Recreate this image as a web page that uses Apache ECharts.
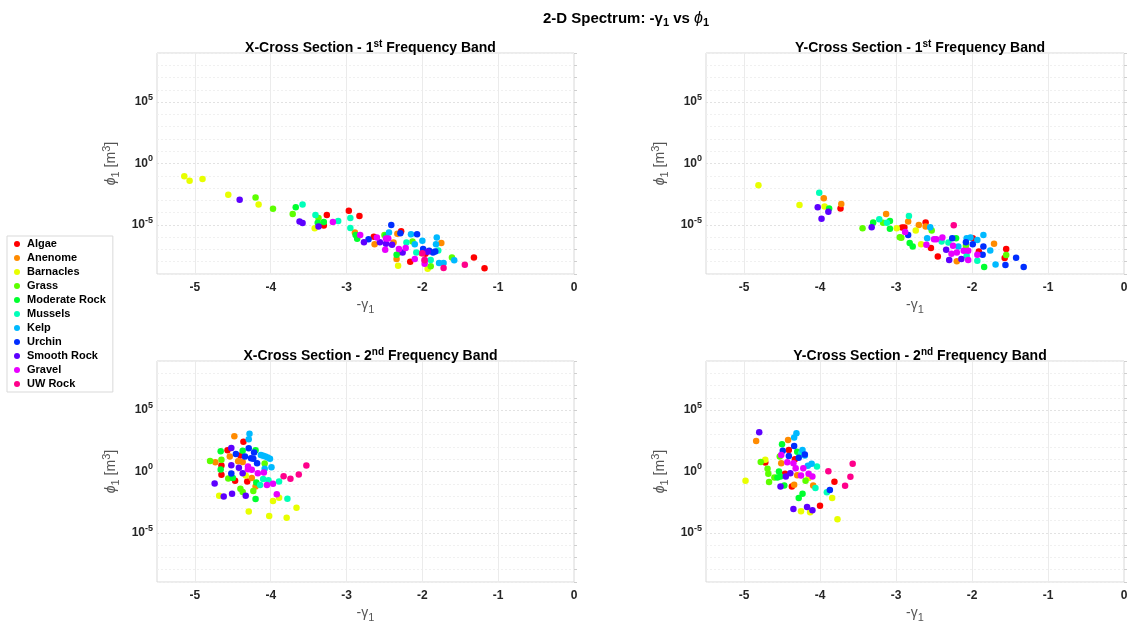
<!DOCTYPE html>
<html><head><meta charset="utf-8">
<script src="https://cdn.jsdelivr.net/npm/echarts@6/dist/echarts.min.js"></script>
<style>html,body{margin:0;padding:0;background:#fff}#c{width:1132px;height:628px}</style>
</head><body><div id="c"></div><script>
// ---------------- DATA ----------------
const categories = ['Algae','Anenome','Barnacles','Grass','Moderate Rock','Mussels','Kelp','Urchin','Smooth Rock','Gravel','UW Rock'];
const panelTitles = [
  ['X-Cross Section - ', '1', 'st', ' Frequency Band'],
  ['Y-Cross Section - ', '1', 'st', ' Frequency Band'],
  ['X-Cross Section - ', '2', 'nd', ' Frequency Band'],
  ['Y-Cross Section - ', '2', 'nd', ' Frequency Band']
];
const xTickValues = [-5, -4, -3, -2, -1, 0];
const yLabelExponents = [-5, 0, 5];

// X-Cross Section, 1st band: [-gamma1, phi1]
const xBand1 = {
  'Algae': [[-3.26,6.5e-5],[-3.30,8.9e-6],[-2.97,1.4e-4],[-2.83,5.4e-5],[-2.64,1.1e-6],[-2.28,3.1e-6],[-2.16,1e-8],[-1.96,4.5e-8],[-1.32,2.2e-8],[-1.18,2.9e-9]],
  'Anenome': [[-2.89,2.4e-6],[-2.63,2.7e-7],[-2.38,3.7e-7],[-2.34,1.7e-8],[-2.33,1.9e-6],[-2.01,5e-8],[-1.75,3.3e-7]],
  'Barnacles': [[-5.14,0.093],[-5.07,0.039],[-4.90,0.054],[-4.56,2.9e-3],[-4.16,4.5e-4],[-3.42,5.4e-6],[-2.32,4.8e-9],[-1.93,2.7e-9]],
  'Grass': [[-4.20,1.7e-3],[-3.97,2.1e-4],[-3.71,7.8e-5],[-3.37,3.7e-5],[-2.50,1.5e-6],[-2.13,4.5e-7],[-1.89,4.2e-9],[-1.61,2.2e-8],[-2.30,6e-8]],
  'Moderate Rock': [[-3.67,2.7e-4],[-3.38,1.5e-5],[-3.30,1.7e-5],[-2.88,1.5e-6],[-2.86,7.3e-7],[-2.34,3.7e-8],[-2.48,1.3e-6]],
  'Mussels': [[-3.58,4.5e-4],[-3.41,6.5e-5],[-3.11,2.1e-5],[-2.95,3.7e-5],[-2.95,5.7e-6],[-2.21,3.7e-7],[-2.08,5.7e-8],[-1.79,8.3e-8],[-1.89,1.4e-8]],
  'Kelp': [[-2.44,2.4e-6],[-2.15,1.7e-6],[-2.10,2.6e-7],[-2.00,5e-7],[-1.81,9.4e-7],[-1.82,2.7e-7],[-1.78,7.8e-9],[-1.72,7.8e-9],[-1.58,1.3e-8]],
  'Urchin': [[-2.41,1e-5],[-2.29,2.1e-6],[-2.07,1.7e-6],[-1.99,1.1e-7],[-1.91,7.8e-8],[-1.86,5.7e-8],[-1.83,6.9e-8],[-2.71,6.9e-7]],
  'Smooth Rock': [[-4.41,1.1e-3],[-3.62,1.9e-5],[-3.58,1.4e-5],[-3.37,7.3e-6],[-2.77,3.9e-7],[-2.56,3.9e-7],[-2.48,2.9e-7],[-2.40,2.4e-7],[-2.26,5.7e-8],[-1.93,6.5e-8]],
  'Gravel': [[-3.18,1.7e-5],[-2.82,1.5e-6],[-2.60,9.4e-7],[-2.48,7.8e-7],[-2.45,7.8e-7],[-2.49,9.4e-8],[-2.31,1.1e-7],[-2.22,1.3e-7],[-2.10,1.7e-8],[-1.97,1.4e-8],[-1.97,6.9e-9]],
  'UW Rock': [[-2.00,5e-8],[-1.72,3.1e-9],[-1.44,5.7e-9],[-1.97,1.3e-8]]
};

// Y-Cross Section, 1st band
const yBand1 = {
  'Algae': [[-3.73,2.2e-4],[-2.92,6e-6],[-2.89,6e-6],[-2.61,1.6e-5],[-2.54,1.3e-7],[-2.45,2.7e-8],[-1.99,8.3e-7],[-1.91,6.9e-8],[-1.55,1.1e-7],[-1.57,2e-8]],
  'Anenome': [[-3.95,1.5e-3],[-3.72,5e-4],[-3.13,7.8e-5],[-2.84,1.9e-5],[-2.70,1e-5],[-2.61,7.3e-6],[-2.20,1.1e-8],[-1.71,2.9e-7]],
  'Barnacles': [[-4.81,0.017],[-4.27,4.2e-4],[-3.94,3.1e-4],[-2.99,5.4e-6],[-2.74,3.5e-6],[-2.67,2.7e-7]],
  'Grass': [[-3.44,5.4e-6],[-3.17,1.5e-5],[-2.95,1e-6],[-2.93,9e-7],[-2.53,3.5e-6],[-2.08,2e-7],[-1.55,3.5e-8]],
  'Moderate Rock': [[-3.88,2.2e-4],[-3.30,1.6e-5],[-3.08,2.1e-5],[-3.08,4.8e-6],[-2.82,3.3e-7],[-2.78,1.7e-7],[-2.21,8.3e-7],[-1.84,3.7e-9]],
  'Mussels': [[-4.01,4.2e-3],[-3.22,2.9e-5],[-3.12,1.5e-5],[-2.83,5.4e-5],[-2.40,4.5e-7],[-2.31,3.7e-7],[-1.93,1.2e-8],[-2.07,3e-8]],
  'Kelp': [[-2.55,6.5e-6],[-2.59,8.3e-7],[-2.18,1.7e-7],[-2.07,8.3e-7],[-2.02,9.4e-7],[-1.93,6e-7],[-1.85,1.5e-6],[-1.76,8.3e-8],[-1.69,6e-9]],
  'Urchin': [[-2.84,1.5e-6],[-2.26,8.3e-7],[-2.08,3.9e-7],[-1.99,2.7e-7],[-1.85,1.7e-7],[-1.86,3.7e-8],[-1.56,5.4e-9],[-1.42,2.1e-8],[-1.32,3.7e-9]],
  'Smooth Rock': [[-4.03,2.7e-4],[-3.98,3.1e-5],[-3.89,1.2e-4],[-3.32,6.5e-6],[-2.34,9.4e-8],[-2.30,1.4e-8],[-2.14,1.7e-8]],
  'Gravel': [[-2.88,2.6e-6],[-2.60,2.4e-7],[-2.50,6.9e-7],[-2.47,6.9e-7],[-2.39,9.4e-7],[-2.25,2e-7],[-2.27,4.5e-8],[-2.20,5.7e-8],[-2.11,7.8e-8],[-2.05,7.8e-8],[-2.05,1.4e-8],[-1.93,3.7e-8]],
  'UW Rock': [[-2.24,9.4e-6]]
};

// X-Cross Section, 2nd band
const xBand2 = {
  'Algae': [[-4.57,54],[-4.36,270],[-4.65,3.1],[-4.65,0.54],[-4.47,0.175],[-4.31,0.155],[-4.40,20]],
  'Anenome': [[-4.73,5.7],[-4.48,730],[-4.54,16.5],[-4.43,6.9],[-4.37,6],[-4.20,0.06],[-4.25,0.3]],
  'Barnacles': [[-4.68,0.0107],[-4.29,5.4e-4],[-4.02,2.4e-4],[-3.97,3.9e-3],[-3.89,7.3e-3],[-3.79,1.7e-4],[-3.66,1.1e-3],[-4.33,0.48]],
  'Grass': [[-4.80,7.3],[-4.65,8.9],[-4.56,0.27],[-4.40,0.039],[-4.37,0.021],[-4.23,0.026],[-4.08,4.5]],
  'Moderate Rock': [[-4.66,45],[-4.66,1.45],[-4.37,50],[-4.20,54],[-4.20,5.7e-3],[-4.19,0.13],[-4.50,0.3]],
  'Mussels': [[-4.14,0.078],[-4.03,0.19],[-3.89,0.155],[-3.78,0.006],[-4.10,0.25]],
  'Kelp': [[-4.28,1200],[-4.29,420],[-4.13,22],[-4.10,19],[-4.07,16.5],[-4.04,13.7],[-4.01,10.7],[-3.99,2.2],[-4.08,1.7]],
  'Urchin': [[-4.29,78],[-4.46,27],[-4.34,16.5],[-4.26,12],[-4.23,11],[-4.22,35],[-4.18,4.8],[-4.52,0.69]],
  'Smooth Rock': [[-4.52,83],[-4.74,0.107],[-4.62,0.0094],[-4.51,0.0155],[-4.52,3.3],[-4.42,2.0],[-4.37,0.73],[-4.33,0.0107]],
  'Gravel': [[-4.30,2.5],[-4.25,1.4],[-4.17,0.73],[-4.09,0.83],[-4.05,0.078],[-3.97,0.1],[-3.92,0.0138],[-4.30,1.5]],
  'UW Rock': [[-3.83,0.42],[-3.74,0.26],[-3.63,0.57],[-3.53,3.1]]
};

// Y-Cross Section, 2nd band
const yBand2 = {
  'Algae': [[-4.72,5.4],[-4.41,57],[-4.46,0.65],[-4.37,0.06],[-4.00,1.6e-3],[-3.81,0.145],[-4.33,10]],
  'Anenome': [[-4.84,310],[-4.42,370],[-4.51,4.8],[-4.34,0.083],[-4.09,0.073],[-4.30,0.5]],
  'Barnacles': [[-4.98,0.175],[-4.72,8.9],[-4.25,5.7e-4],[-4.13,4.8e-4],[-3.84,6.9e-3],[-3.77,1.3e-4],[-4.15,0.3]],
  'Grass': [[-4.78,6],[-4.69,1.7],[-4.68,0.65],[-4.67,0.137],[-4.60,0.33],[-4.53,16.5],[-4.19,0.175]],
  'Moderate Rock': [[-4.50,165],[-4.56,0.33],[-4.52,0.39],[-4.54,1.0],[-4.47,0.073],[-4.23,0.0155],[-4.28,0.0069],[-4.30,40]],
  'Mussels': [[-4.06,0.045],[-3.91,0.02],[-4.04,2.5],[-4.25,30]],
  'Kelp': [[-4.34,600],[-4.31,1300],[-4.23,57],[-4.11,4.2],[-4.16,2.9],[-4.20,20]],
  'Urchin': [[-4.49,50],[-4.34,120],[-4.41,18.6],[-4.28,12.9],[-4.20,24],[-3.87,0.031]],
  'Smooth Rock': [[-4.80,1550],[-4.52,0.06],[-4.39,0.73],[-4.45,0.39],[-4.35,8.9e-4],[-4.17,1.3e-3],[-4.10,6.9e-4]],
  'Gravel': [[-4.51,22],[-4.43,5.7],[-4.35,4.8],[-4.32,1.86],[-4.25,0.48],[-4.22,1.86],[-4.15,0.65],[-4.10,0.39]],
  'UW Rock': [[-3.89,1.07],[-3.67,0.069],[-3.60,0.37],[-3.57,4.2]]
};

const panels = [xBand1, yBand1, xBand2, yBand2];

// ---------------- STYLE ----------------
const colors = ['#ff0000','#ff8b00','#e8ff00','#5dff00','#00ff2e','#00ffb9','#00b9ff','#002eff','#5d00ff','#e800ff','#ff008b'];
const FONT = "'Liberation Sans', Helvetica, Arial, sans-serif";
const gridBoxes = [
  {left:157, top:53, width:417, height:221},
  {left:706, top:53, width:418, height:221},
  {left:157, top:361, width:417, height:221},
  {left:706, top:361, width:418, height:221}
];
const titleTops = [34, 34, 342, 342];

const supStyle = {fontSize: 10, fontWeight: 'bold', color: '#000', fontFamily: FONT, padding: [0,0,9,0]};
const titleStyle = {fontSize: 14, fontWeight: 'bold', color: '#000', fontFamily: FONT};

const titles = [{
  text: '{t|2-D Spectrum: -γ}{sub|1}{t| vs }{ph|ϕ}{sub|1}',
  left: 621, top: 4, textAlign: 'center',
  textStyle: {rich: {
    t: {fontSize: 15, fontWeight: 'bold', color: '#000', fontFamily: FONT},
    ph: {fontSize: 16, fontWeight: 'normal', fontStyle: 'italic', color: '#000', fontFamily: FONT},
    sub: {fontSize: 11, fontWeight: 'bold', color: '#000', fontFamily: FONT, padding: [8,0,0,0]}
  }}
}];
panelTitles.forEach((pt, i) => {
  const g = gridBoxes[i];
  titles.push({
    text: '{t|' + pt[0] + pt[1] + '}{sup|' + pt[2] + '}{t|' + pt[3] + '}',
    left: g.left + g.width / 2, top: titleTops[i], textAlign: 'center',
    textStyle: {rich: {t: titleStyle, sup: supStyle}}
  });
});

const grids = gridBoxes.map(g => Object.assign({show: true, borderColor: '#d9d9d9', borderWidth: 1, backgroundColor: '#fff', containLabel: false}, g));

const xAxes = gridBoxes.map((g, i) => ({
  type: 'value', gridIndex: i, min: -5.5, max: 0, interval: 0.5,
  name: '{a|-γ}{sub|1}', nameLocation: 'middle', nameGap: 22,
  nameTextStyle: {rich: {
    a: {fontSize: 14, color: '#555', fontFamily: FONT},
    sub: {fontSize: 11, color: '#555', fontFamily: FONT, padding: [8,0,0,0]}
  }},
  axisLine: {show: false}, axisTick: {show: false},
  axisLabel: {
    margin: 8, color: '#262626', fontSize: 12, fontWeight: 'bold', fontFamily: FONT,
    formatter: v => (xTickValues.indexOf(v) >= 0 ? String(v) : '')
  },
  splitLine: {show: true, lineStyle: {color: ['rgba(0,0,0,0)', '#ebebeb'], width: 1}}
}));

const yAxes = gridBoxes.map((g, i) => ({
  type: 'log', logBase: 10, gridIndex: i, min: 1e-9, max: 1e9, interval: 1,
  name: '{ph|ϕ}{sub|1}{a| [m}{sup|3}{a|]}', nameLocation: 'middle', nameGap: 35, nameRotate: 90,
  nameTextStyle: {rich: {
    ph: {fontSize: 14, fontStyle: 'italic', color: '#555', fontFamily: FONT},
    a: {fontSize: 14, color: '#555', fontFamily: FONT},
    sub: {fontSize: 11, color: '#555', fontFamily: FONT, padding: [8,0,0,0]},
    sup: {fontSize: 11, color: '#555', fontFamily: FONT, padding: [0,0,10,0]}
  }},
  axisLine: {show: false},
  axisTick: {show: true, inside: true, length: 3, lineStyle: {color: '#cfcfcf'}},
  axisLabel: {
    margin: 4, color: '#262626', fontFamily: FONT,
    formatter: v => {
      const e = Math.round(Math.log10(v));
      return yLabelExponents.indexOf(e) >= 0 ? '{b|10}{s|' + e + '}' : '';
    },
    rich: {
      b: {fontSize: 12, fontWeight: 'bold', color: '#262626', fontFamily: FONT},
      s: {fontSize: 9, fontWeight: 'bold', color: '#262626', fontFamily: FONT, padding: [0,0,9,0]}
    }
  },
  splitLine: {show: true, lineStyle: {color: ['#f0f0f0','#f0f0f0','#f0f0f0','#f0f0f0','#e2e2e2'], width: 1, type: [2, 2]}}
}));

const series = [];
panels.forEach((pd, p) => {
  categories.forEach((c, k) => {
    series.push({
      type: 'scatter', name: c, xAxisIndex: p, yAxisIndex: p,
      data: pd[c], symbol: 'circle', symbolSize: 6.5,
      itemStyle: {color: colors[k], opacity: 1},
      emphasis: {disabled: true}, silent: true
    });
  });
});

const chart = echarts.init(document.getElementById('c'), null, {renderer: 'canvas'});
chart.setOption({
  animation: false,
  color: colors,
  backgroundColor: '#fff',
  title: titles,
  legend: {
    data: categories, orient: 'vertical', left: 7, top: 236,
    icon: 'circle', itemWidth: 6, itemHeight: 6, itemGap: 0,
    padding: [1, 7, 1, 7],
    borderColor: '#d9d9d9', borderWidth: 1, backgroundColor: '#fff',
    selectedMode: false,
    textStyle: {fontSize: 11, fontWeight: 'bold', color: '#000', fontFamily: FONT, lineHeight: 14, padding: [0,0,0,2]}
  },
  grid: grids, xAxis: xAxes, yAxis: yAxes, series: series
});
</script></body></html>
